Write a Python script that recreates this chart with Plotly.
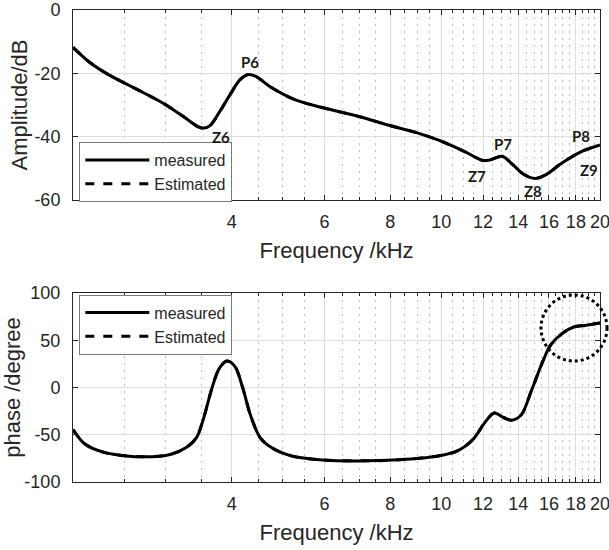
import numpy as np
import plotly.graph_objects as go

# ---------------- data ----------------
freq_amp = [2.0, 2.15, 2.34, 2.64, 2.97, 3.23, 3.45, 3.54, 3.64, 3.80, 3.98, 4.15, 4.30,
            4.45, 4.76, 5.27, 5.94, 7.0, 7.91, 9.0, 9.91, 11.1, 11.98, 12.4, 13.04, 13.6,
            14.3, 15.06, 15.8, 16.94, 18.44, 20.0]
amp_measured = [-11.8, -16.5, -20.5, -25.0, -29.5, -33.5, -36.8, -37.3, -36.5, -32.0, -26.5,
                -22.0, -20.4, -21.0, -24.5, -28.3, -30.8, -33.7, -36.3, -38.8, -41.2, -44.8,
                -47.5, -47.3, -46.2, -48.5, -51.8, -53.2, -52.0, -48.3, -44.7, -42.6]
amp_estimated = list(amp_measured)

freq_ph = [2.0, 2.11, 2.30, 2.73, 3.07, 3.28, 3.43, 3.54, 3.67, 3.79, 3.92, 4.06, 4.20, 4.34,
           4.53, 4.76, 5.19, 5.94, 7.27, 8.61, 9.86, 10.73, 11.48, 12.08, 12.60, 13.15, 13.60,
           14.19, 14.80, 15.57, 16.11, 16.94, 17.83, 18.75, 20.0]
phase_measured = [-44.4, -60.1, -68.9, -73.4, -70.6, -63.6, -53.1, -32.2, -0.7, 20.3, 28.0,
                  22.0, -0.7, -28.7, -53.0, -63.6, -72.4, -76.6, -77.6, -75.9, -72.4, -67.0,
                  -55.0, -37.4, -27.0, -32.0, -34.6, -28.7, -4.2, 27.3, 44.8, 57.0, 64.0,
                  65.7, 68.2]
phase_estimated = list(phase_measured)

major_ticks = [4, 6, 8, 10, 12, 14, 16, 18, 20]
minor_ticks = [2.5, 3, 3.5, 4.5, 5, 5.5, 6.5, 7, 7.5, 8.5, 9, 9.5, 10.5, 11, 11.5,
               12.5, 13, 13.5, 14.5, 15, 15.5, 16.5, 17, 17.5, 18.5, 19, 19.5]
amp_ticks = [-60, -40, -20, 0]
phase_ticks = [-100, -50, 0, 50, 100]

labels_text = ["P6", "Z6", "P7", "Z7", "Z8", "P8", "Z9"]
labels_f = [4.33, 3.82, 13.1, 11.7, 14.9, 18.4, 19.1]
labels_db = [-16.5, -40.2, -42.4, -52.3, -57.1, -39.8, -50.6]

# ---------------- figure ----------------
AX = "#262626"
LW = 3

fig = go.Figure()
fig.add_trace(go.Scatter(x=freq_amp, y=amp_measured, mode="lines", name="measured",
                         line=dict(color="black", width=LW, shape="spline", smoothing=0.9),
                         xaxis="x", yaxis="y", legend="legend"))
fig.add_trace(go.Scatter(x=freq_amp, y=amp_estimated, mode="lines", name="Estimated",
                         line=dict(color="black", width=LW, dash="dash", shape="spline", smoothing=0.9),
                         xaxis="x", yaxis="y", legend="legend"))
fig.add_trace(go.Scatter(x=freq_ph, y=phase_measured, mode="lines", name="measured",
                         line=dict(color="black", width=LW, shape="spline", smoothing=0.9),
                         xaxis="x2", yaxis="y2", legend="legend2"))
fig.add_trace(go.Scatter(x=freq_ph, y=phase_estimated, mode="lines", name="Estimated",
                         line=dict(color="black", width=LW, dash="dash", shape="spline", smoothing=0.9),
                         xaxis="x2", yaxis="y2", legend="legend2"))

FONT = "Liberation Sans, Arial, sans-serif"

def xaxis(anchor):
    return dict(
        type="log", range=[np.log10(2), np.log10(20)], anchor=anchor, automargin=False,
        tickmode="array", tickvals=major_ticks, ticktext=[str(v) for v in major_ticks],
        ticks="inside", ticklen=5, tickcolor=AX, tickwidth=1,
        showline=True, linecolor=AX, linewidth=1, mirror="allticks",
        showgrid=True, gridcolor="#dedede", gridwidth=1, zeroline=False,
        minor=dict(tickmode="array", tickvals=minor_ticks, ticks="inside", ticklen=3,
                   tickcolor=AX, showgrid=True, gridcolor="#bdbdbd", griddash="2px,5px", gridwidth=1),
        tickfont=dict(family=FONT, size=18, color=AX),
        ticklabeloverflow="allow",
        title=dict(text="Frequency /kHz", font=dict(family=FONT, size=22, color=AX), standoff=12),
        ticklabelstandoff=5,
    )

def yaxis(anchor, rng, ticks, title, domain, standoff):
    return dict(
        range=rng, anchor=anchor, domain=domain, automargin=False,
        tickmode="array", tickvals=ticks, ticktext=[str(v) for v in ticks],
        ticks="inside", ticklen=5, tickcolor=AX, tickwidth=1,
        showline=True, linecolor=AX, linewidth=1, mirror="allticks",
        showgrid=True, gridcolor="#dedede", gridwidth=1, zeroline=False,
        tickfont=dict(family=FONT, size=18, color=AX),
        ticklabeloverflow="allow",
        title=dict(text=title, font=dict(family=FONT, size=22, color=AX), standoff=standoff),
        ticklabelstandoff=8,
    )

top_dom = [(482 - 200) / 472, 1.0]
bot_dom = [0.0, (482 - 293) / 472]

legend_common = dict(
    bgcolor="white", bordercolor="#7a7a7a", borderwidth=1,
    font=dict(family=FONT, size=16, color=AX),
    itemwidth=64, tracegroupgap=0, xanchor="left", yanchor="top",
    entrywidth=92, entrywidthmode="pixels",
)

fig.update_layout(
    width=609, height=550,
    margin=dict(l=73, r=9, t=10, b=68, autoexpand=False),
    paper_bgcolor="white", plot_bgcolor="white",
    xaxis=xaxis("y"), xaxis2=xaxis("y2"),
    yaxis=yaxis("x", [-60, 0], amp_ticks, "Amplitude/dB", top_dom, 0),
    yaxis2=yaxis("x2", [-100, 100], phase_ticks, "phase /degree", bot_dom, 2),
    legend=dict(x=0.012, y=0.720, **legend_common),
    legend2=dict(x=0.012, y=0.397, **legend_common),
    showlegend=True,
)

for t, f, v in zip(labels_text, labels_f, labels_db):
    fig.add_annotation(x=np.log10(f), y=v, xref="x", yref="y", text="<b>%s</b>" % t,
                       showarrow=False, font=dict(family="Lato, Noto Sans, sans-serif", size=15, color="#1a1a1a"))

# dotted highlight circle around the high-frequency phase plateau (paper coords)
fig.add_shape(type="circle", xref="paper", yref="paper",
              x0=(541 - 73) / 527, x1=(607 - 73) / 527,
              y0=(482 - 361) / 472, y1=(482 - 295) / 472,
              line=dict(color="black", width=3, dash="dot"), layer="above")

fig.write_html("out.html")
